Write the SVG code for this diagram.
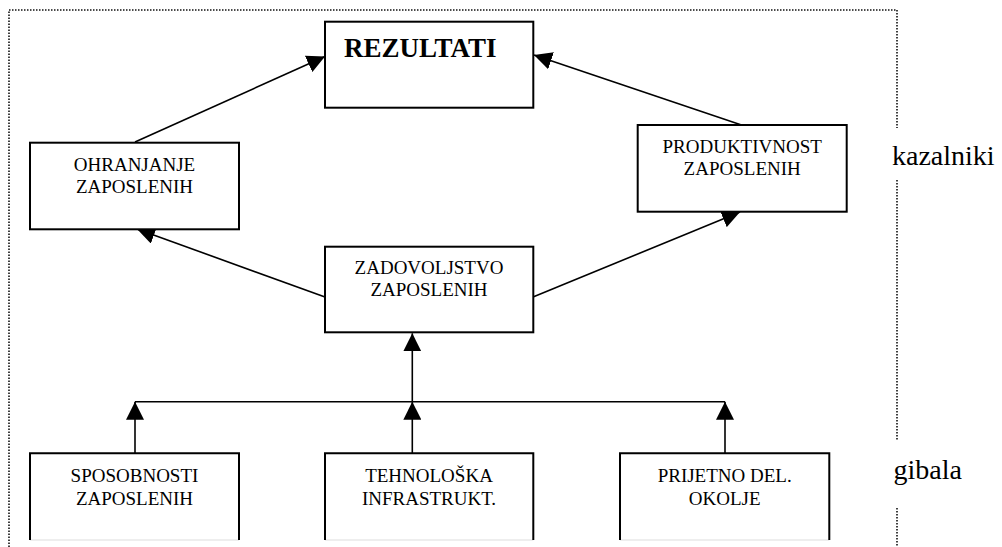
<svg xmlns="http://www.w3.org/2000/svg" width="1002" height="547" viewBox="0 0 1002 547">
<style>
.box{fill:#fff;stroke:#000;stroke-width:2}
.side{fill:none;stroke:#000;stroke-width:2}
.t{font-size:19px;fill:#000;text-anchor:middle}
.big{font-size:27px;font-weight:bold;fill:#000}
.lbl{font-size:28px;fill:#000}
.dot{fill:none;stroke:#111;stroke-width:1.6;stroke-dasharray:1.5 1.5}
.c{fill:none;stroke:#000;stroke-width:1.6}
</style>
<defs>
<marker id="ah" markerUnits="userSpaceOnUse" markerWidth="18" markerHeight="18" refX="18" refY="9" orient="auto" viewBox="0 0 18 18">
<path d="M0,0 L18,9 L0,18 z" fill="#000"/>
</marker>
</defs>
<rect width="1002" height="547" fill="#fff"/>
<g id="frame">
<path class="dot" d="M9,547 V10 H897 V128"/>
<path class="dot" d="M897,180 V440"/>
<path class="dot" d="M897,508 V547"/>
</g>
<g id="connectors">
<line class="c" x1="135" y1="142" x2="325" y2="56.5" marker-end="url(#ah)"/>
<line class="c" x1="741.5" y1="125" x2="534" y2="55" marker-end="url(#ah)"/>
<line class="c" x1="325" y1="297" x2="137" y2="229" marker-end="url(#ah)"/>
<line class="c" x1="533" y1="297" x2="740" y2="212" marker-end="url(#ah)"/>
<line class="c" x1="412.3" y1="401.7" x2="412.3" y2="333.3" marker-end="url(#ah)"/>
<line class="c" x1="135" y1="401.7" x2="725" y2="401.7"/>
<line class="c" x1="135" y1="453" x2="135" y2="401.7" marker-end="url(#ah)"/>
<line class="c" x1="412.3" y1="453" x2="412.3" y2="401.7" marker-end="url(#ah)"/>
<line class="c" x1="725" y1="453" x2="725" y2="401.7" marker-end="url(#ah)"/>
</g>
<g id="rezultati" font-family="Liberation Serif">
<rect class="box" x="325" y="21.7" width="208.3" height="86"/>
<text class="big" x="344" y="56.7">REZULTATI</text>
</g>
<g id="ohranjanje" font-family="Liberation Serif">
<rect class="box" x="30" y="142.7" width="209" height="86.6"/>
<text class="t" x="134.5" y="170.7">OHRANJANJE</text>
<text class="t" x="134.5" y="192.7">ZAPOSLENIH</text>
</g>
<g id="produktivnost" font-family="Liberation Serif">
<rect class="box" x="637.7" y="125" width="209" height="86.7"/>
<text class="t" x="742.2" y="152.5">PRODUKTIVNOST</text>
<text class="t" x="742.2" y="174.5">ZAPOSLENIH</text>
</g>
<g id="zadovoljstvo" font-family="Liberation Serif">
<rect class="box" x="325" y="246.7" width="208.3" height="85.6"/>
<text class="t" x="429" y="273.5">ZADOVOLJSTVO</text>
<text class="t" x="429" y="295.5">ZAPOSLENIH</text>
</g>
<g id="sposobnosti" font-family="Liberation Serif">
<line x1="30" y1="540" x2="239" y2="540" stroke="#ddd" stroke-width="1"/>
<path class="side" d="M30,540 V453.3 H239 V540"/>
<text class="t" x="134.5" y="481.5">SPOSOBNOSTI</text>
<text class="t" x="134.5" y="504.5">ZAPOSLENIH</text>
</g>
<g id="tehnoloska" font-family="Liberation Serif">
<line x1="325" y1="540" x2="533.3" y2="540" stroke="#ddd" stroke-width="1"/>
<path class="side" d="M325,540 V453.3 H533.3 V540"/>
<text class="t" x="429" y="481.5">TEHNOLOŠKA</text>
<text class="t" x="429" y="504.5">INFRASTRUKT.</text>
</g>
<g id="prijetno" font-family="Liberation Serif">
<line x1="620" y1="540" x2="829.3" y2="540" stroke="#ddd" stroke-width="1"/>
<path class="side" d="M620,540 V453.3 H829.3 V540"/>
<text class="t" x="724.7" y="481.5">PRIJETNO DEL.</text>
<text class="t" x="724.7" y="504.5">OKOLJE</text>
</g>
<g id="labels" font-family="Liberation Serif">
<text class="lbl" x="892" y="165">kazalniki</text>
<text class="lbl" x="893.5" y="479.3">gibala</text>
</g>
</svg>
